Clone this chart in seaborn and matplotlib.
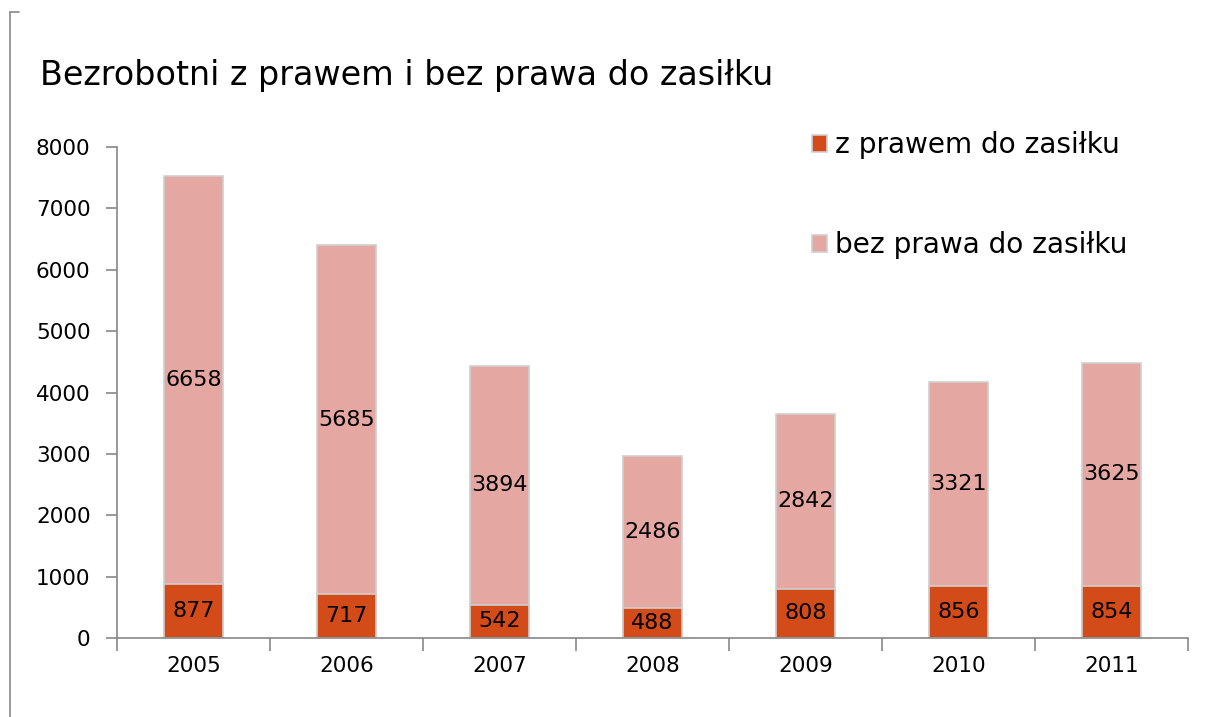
import pandas as pd
import seaborn as sns
import matplotlib.pyplot as plt
from matplotlib.lines import Line2D

years = ["2005", "2006", "2007", "2008", "2009", "2010", "2011"]
z_prawem = [877, 717, 542, 488, 808, 856, 854]
bez_prawa = [6658, 5685, 3894, 2486, 2842, 3321, 3625]

dark = "#D44B1A"
light = "#E5A7A2"

df = pd.DataFrame({"rok": years, "z": z_prawem, "bez": bez_prawa})
df["suma"] = df["z"] + df["bez"]

sns.set_style("ticks")
plt.rcParams["font.family"] = ["DejaVu Sans"]
plt.rcParams["text.color"] = "black"

fig = plt.figure(figsize=(12.06, 7.17), dpi=100)
ax = fig.add_axes([0.097, 0.110, 0.888, 0.685])

# stacked: total first (light), then bottom part (dark) on top of it
sns.barplot(data=df, x="rok", y="suma", color=light, width=0.39, saturation=1,
            edgecolor="#cfcfcf", linewidth=1.2, ax=ax, label="bez prawa do zasiłku")
sns.barplot(data=df, x="rok", y="z", color=dark, width=0.39, saturation=1,
            edgecolor="#cfcfcf", linewidth=1.2, ax=ax, label="z prawem do zasiłku")

for i, r in df.iterrows():
    ax.text(i, r["z"] / 2, str(r["z"]), ha="center", va="center", fontsize=16)
    ax.text(i, r["z"] + r["bez"] / 2, str(r["bez"]), ha="center", va="center", fontsize=16)

ax.set_ylim(0, 8000)
ax.set_xlim(-0.5, 6.5)
ax.set_yticks(range(0, 8001, 1000))
ax.set_xlabel("")
ax.set_ylabel("")
ax.set_xticks(range(7))
ax.set_xticks([i - 0.5 for i in range(8)], minor=True)
ax.tick_params(axis="x", which="major", bottom=True, length=0, labelsize=15.5, pad=13,
               labelcolor="black")
ax.tick_params(axis="x", which="minor", bottom=True, length=9, width=1.2,
               direction="out", color="#888888")
ax.tick_params(axis="y", left=True, length=8, width=1.2, direction="out", color="#888888",
               labelsize=15.5, pad=11, labelcolor="black")
for s in ["top", "right"]:
    ax.spines[s].set_visible(False)
for s in ["left", "bottom"]:
    ax.spines[s].set_color("#888888")
    ax.spines[s].set_linewidth(1.2)

h, l = ax.get_legend_handles_labels()
order = [l.index("z prawem do zasiłku"), l.index("bez prawa do zasiłku")]
ax.legend([h[k] for k in order], [l[k] for k in order], loc="upper left",
          bbox_to_anchor=(0.625, 1.083), frameon=False, fontsize=20.2,
          handlelength=0.55, handleheight=0.55, handletextpad=0.3, labelspacing=2.55)

fig.text(0.033, 0.895, "Bezrobotni z prawem i bez prawa do zasiłku", fontsize=24,
         ha="left", va="center")

# chart area border (left edge)
fig.add_artist(Line2D([0.0085, 0.0085], [0.0, 0.983], color="#888888", lw=1.2))
fig.add_artist(Line2D([0.0085, 0.016], [0.983, 0.983], color="#888888", lw=1.2))

fig.savefig("out.png", dpi=100)
